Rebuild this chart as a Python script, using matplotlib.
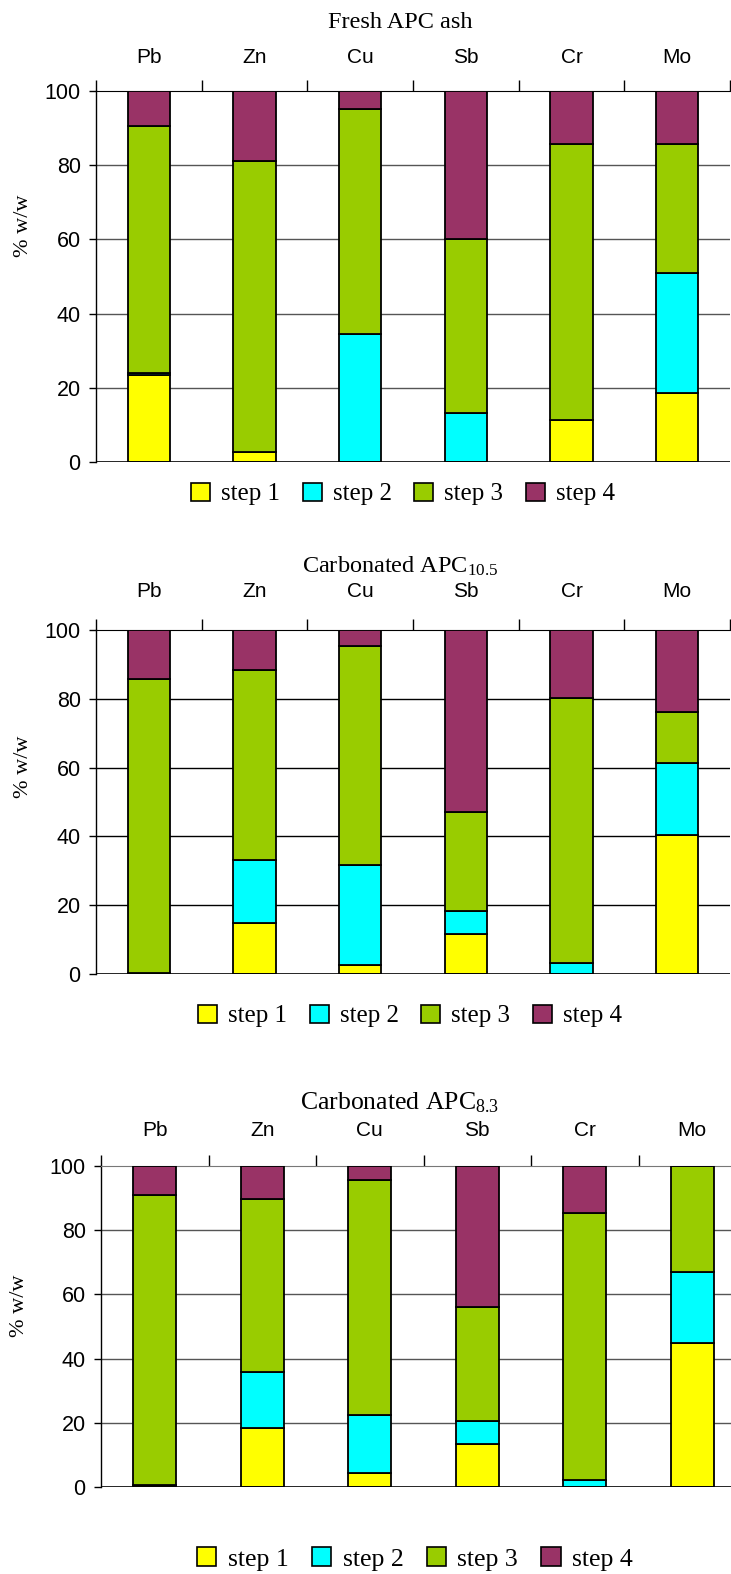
import matplotlib
matplotlib.use("Agg")
import matplotlib.pyplot as plt
import numpy as np
from matplotlib.patches import Patch

plt.rcParams['mathtext.fontset'] = 'custom'
plt.rcParams['mathtext.rm'] = 'Liberation Serif'
plt.rcParams['mathtext.it'] = 'Liberation Serif:italic'

elements = ["Pb", "Zn", "Cu", "Sb", "Cr", "Mo"]
steps = ["step 1", "step 2", "step 3", "step 4"]
colors = ["#FFFF00", "#00FFFF", "#99CC00", "#993366"]

# Fresh APC ash
fresh_s1 = [23.4, 2.6, 0.0, 0.0, 11.2, 18.6]
fresh_s2 = [0.5, 0.0, 34.5, 13.2, 0.0, 32.4]
fresh_s3 = [66.6, 78.6, 60.6, 47.0, 74.4, 34.7]
fresh_s4 = [9.5, 18.8, 4.9, 39.8, 14.4, 14.3]

# Carbonated APC 10.5
c105_s1 = [0.4, 14.7, 2.5, 11.5, 0.0, 40.4]
c105_s2 = [0.0, 18.4, 29.1, 6.9, 3.1, 21.0]
c105_s3 = [85.3, 55.2, 63.7, 28.7, 77.0, 14.9]
c105_s4 = [14.3, 11.7, 4.7, 52.9, 19.9, 23.7]

# Carbonated APC 8.3
c83_s1 = [0.5, 18.4, 4.5, 13.3, 0.0, 45.0]
c83_s2 = [0.0, 17.5, 18.0, 7.2, 2.1, 21.9]
c83_s3 = [90.4, 53.8, 73.1, 35.5, 83.2, 33.1]
c83_s4 = [9.1, 10.3, 4.4, 44.0, 14.7, 0.0]

titles = ["Fresh APC ash", r"Carbonated APC$_{\mathrm{10.5}}$", r"Carbonated APC$_{\mathrm{8.3}}$"]
data = [[fresh_s1, fresh_s2, fresh_s3, fresh_s4],
        [c105_s1, c105_s2, c105_s3, c105_s4],
        [c83_s1, c83_s2, c83_s3, c83_s4]]

W, H = 731, 1574
fig = plt.figure(figsize=(W / 100, H / 100), dpi=100)

panels = [
    dict(l=96, r=730, t=91, b=462, ty=22, ly=494, lx=403, tfs=17.5, lfs=18, gc="#555555", top="black",
         pad=17, yl=(23, 226)),
    dict(l=96, r=730, t=630, b=974, ty=566, ly=1016, lx=410, tfs=17.5, lfs=18, gc="#000000", top="black",
         pad=21, yl=(23, 767)),
    dict(l=101, r=746, t=1166, b=1487, ty=1103, ly=1559, lx=415, tfs=18.5, lfs=18.5, gc="#555555", top="#777777",
         pad=19, yl=(20, 1306)),
]

x = np.arange(len(elements))
for p, title, series in zip(panels, titles, data):
    ax = fig.add_axes([p['l'] / W, 1 - p['b'] / H, (p['r'] - p['l']) / W, (p['b'] - p['t']) / H])
    bottom = np.zeros(len(elements))
    for vals, c in zip(series, colors):
        vals = np.array(vals)
        ax.bar(x, vals, width=0.4, bottom=bottom, color=c, edgecolor="black",
               linewidth=1.3, zorder=3)
        bottom += vals
    ax.set_xlim(-0.5, 5.5)
    ax.set_ylim(0, 100)
    ax.set_yticks([0, 20, 40, 60, 80, 100])
    ax.tick_params(axis='y', direction='out', length=5, width=1, labelsize=15.5, pad=6)
    for lab in ax.get_yticklabels():
        lab.set_fontfamily('Liberation Sans')
    for yv in [20, 40, 60, 80]:
        ax.axhline(yv, color=p['gc'], lw=1, zorder=1)
    ax.xaxis.tick_top()
    ax.set_xticks(x)
    ax.set_xticklabels(elements, fontfamily='Liberation Sans', fontsize=15)
    ax.tick_params(axis='x', which='major', length=0, pad=p['pad'])
    ax.set_xticks(np.arange(-0.5, 6.0, 1.0), minor=True)
    ax.tick_params(axis='x', which='minor', direction='out', length=8, width=1, top=True, bottom=False)
    for s in ['right', 'bottom']:
        ax.spines[s].set_visible(False)
    ax.spines['top'].set_color(p['top'])
    ax.axhline(0, color="black", lw=1.2, zorder=4)
    ax.spines['left'].set_linewidth(1)
    fig.text(p['yl'][0] / W, 1 - p['yl'][1] / H, "% w/w", rotation=90, ha='center', va='center',
             fontfamily='Liberation Serif', fontsize=16)
    fig.text(400 / W, 1 - p['ty'] / H, title, ha='center', va='center',
             fontfamily='Liberation Serif', fontsize=p['tfs'])
    handles = [Patch(facecolor=c, edgecolor='black', linewidth=1.2) for c in colors]
    fig.legend(handles, steps, loc='center', bbox_to_anchor=(p['lx'] / W, 1 - p['ly'] / H),
               ncol=4, frameon=False, prop={'family': 'Liberation Serif', 'size': p['lfs']},
               handlelength=0.75, handleheight=0.75, handletextpad=0.45, columnspacing=0.9)

fig.savefig("out.png", dpi=100)
